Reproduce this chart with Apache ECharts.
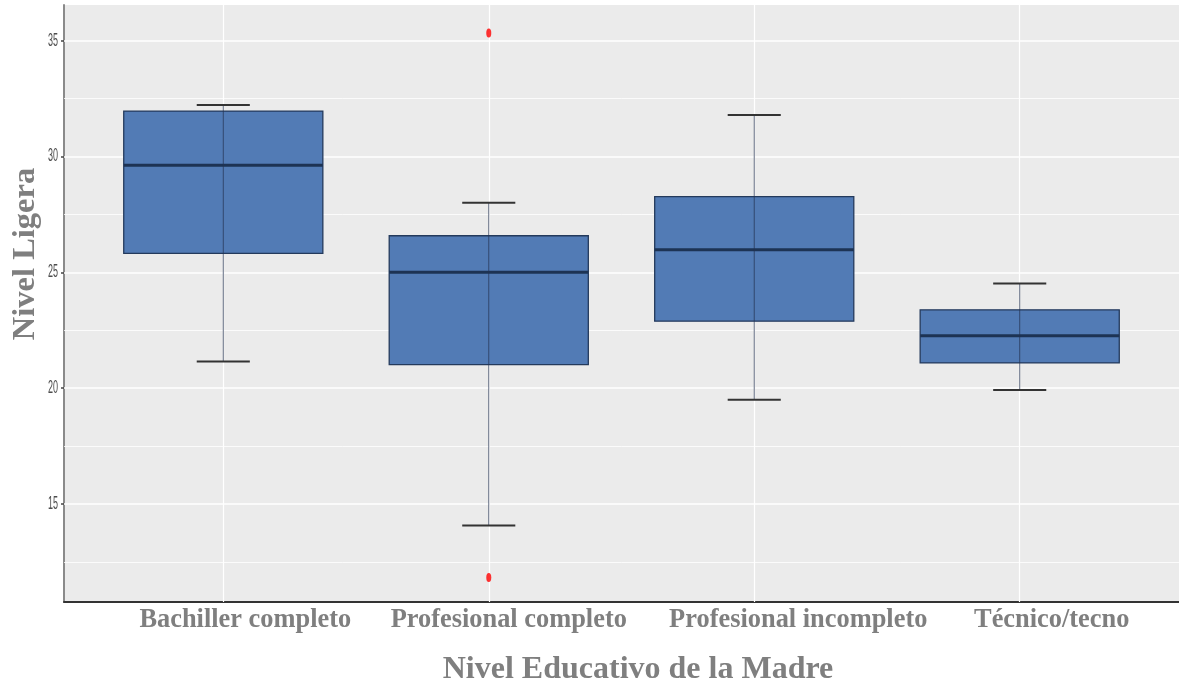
<!DOCTYPE html>
<html>
<head>
<meta charset="utf-8">
<script src="https://cdn.jsdelivr.net/npm/echarts@6/dist/echarts.min.js"></script>
<style>
html,body{margin:0;padding:0;background:#fff;}
#chart{width:1179px;height:687px;}
</style>
</head>
<body>
<div id="chart"></div>
<script>
// Nivel Ligera por nivel educativo de la madre (boxplot statistics)
const categories = ['Bachiller completo', 'Profesional completo', 'Profesional incompleto', 'Técnico/tecno'];
const whiskerLow  = [21.15, 14.07, 19.50, 19.92];
const quartile1   = [25.82, 21.02, 22.89, 21.09];
const medians     = [29.62, 25.00, 25.97, 22.26];
const quartile3   = [31.96, 26.58, 28.27, 23.38];
const whiskerHigh = [32.22, 28.00, 31.79, 24.52];
// outliers: [category index (1-based), value]
const outliers = [[2, 35.33], [2, 11.83]];
const yTicks = [15, 20, 25, 30, 35];
const yMinorGrid = [12.5, 17.5, 22.5, 27.5, 32.5];

const X_MIN = 0.4, X_MAX = 4.6;
const Y_MIN = 10.77, Y_MAX = 36.54;

// horizontal shift (px) of each category label
const labelShift = [22, 20, 44, 32];

const boxData = categories.map((c, i) => [i + 1, whiskerLow[i], quartile1[i], medians[i], quartile3[i], whiskerHigh[i]]);
const catLabelData = categories.map((c, i) => [i + 1, Y_MIN]);
const yLabelData = yTicks.map(v => [X_MIN, v]);

const SERIF = '"Liberation Serif", "Times New Roman", serif';
const SANS = '"Liberation Sans", Arial, sans-serif';

const chart = echarts.init(document.getElementById('chart'));

const option = {
  animation: false,
  grid: {
    left: 64, right: 0, top: 5, bottom: 85,
    show: true, backgroundColor: '#ebebeb', borderWidth: 0
  },
  xAxis: {
    type: 'value', min: X_MIN, max: X_MAX,
    axisLine: { show: true, onZero: false, lineStyle: { color: '#333', width: 2 } },
    axisTick: { show: false },
    splitLine: { show: false },
    axisLabel: { show: false }
  },
  yAxis: {
    type: 'value', min: Y_MIN, max: Y_MAX,
    axisLine: { show: true, lineStyle: { color: '#8a8a8a', width: 2 } },
    axisTick: { show: true, customValues: yTicks, length: 3, lineStyle: { color: '#444', width: 1.5 } },
    splitLine: { show: false },
    axisLabel: { show: false }
  },
  graphic: [
    {
      type: 'text', x: 26, y: 254, rotation: Math.PI / 2,
      style: {
        text: 'Nivel Ligera', fill: '#7f7f7f',
        font: 'bold 32.5px ' + SERIF,
        align: 'center', verticalAlign: 'middle'
      }
    },
    {
      type: 'text', x: 638, y: 670,
      style: {
        text: 'Nivel Educativo de la Madre', fill: '#7f7f7f',
        font: 'bold 32px ' + SERIF,
        align: 'center', verticalAlign: 'middle'
      }
    }
  ],
  series: [
    {
      // panel grid lines
      type: 'custom', z: 1, data: [],
      renderItem: () => null,
      markLine: {
        silent: true, symbol: 'none', z: 1, animation: false,
        label: { show: false },
        data: [
          ...yTicks.map(v => ({ yAxis: v, lineStyle: { color: '#fff', width: 1.6, type: 'solid' } })),
          ...yMinorGrid.map(v => ({ yAxis: v, lineStyle: { color: '#fff', width: 0.8, type: 'solid' } })),
          ...categories.map((c, i) => ({ xAxis: i + 1, lineStyle: { color: '#fff', width: 1.2, type: 'solid' } }))
        ]
      }
    },
    {
      // boxes, medians, whiskers
      type: 'custom', z: 5,
      data: boxData,
      renderItem: (params, api) => {
        const x = api.value(0);
        const low = api.coord([x, api.value(1)]);
        const q1 = api.coord([x, api.value(2)]);
        const med = api.coord([x, api.value(3)]);
        const q3 = api.coord([x, api.value(4)]);
        const high = api.coord([x, api.value(5)]);
        const hw = api.size([0.75, 0])[0] / 2;
        const cw = api.size([0.2, 0])[0] / 2;
        const cx = low[0];
        return {
          type: 'group',
          children: [
            { type: 'rect', shape: { x: cx - hw, y: q3[1], width: hw * 2, height: q1[1] - q3[1] },
              style: { fill: '#527bb5', stroke: '#243a5c', lineWidth: 1.3 } },
            { type: 'line', shape: { x1: cx - hw, y1: med[1], x2: cx + hw, y2: med[1] },
              style: { stroke: '#1d3354', lineWidth: 3 } },
            { type: 'line', shape: { x1: cx, y1: low[1], x2: cx, y2: high[1] },
              style: { stroke: 'rgba(35,50,80,0.7)', lineWidth: 1 } },
            { type: 'line', shape: { x1: cx - cw, y1: high[1], x2: cx + cw, y2: high[1] },
              style: { stroke: '#333', lineWidth: 2 } },
            { type: 'line', shape: { x1: cx - cw, y1: low[1], x2: cx + cw, y2: low[1] },
              style: { stroke: '#333', lineWidth: 2 } }
          ]
        };
      }
    },
    {
      type: 'scatter', z: 6,
      data: outliers,
      symbol: 'circle', symbolSize: [5, 9],
      itemStyle: { color: '#ff0000' }
    },
    {
      // category labels under the x axis
      type: 'custom', z: 6, clip: false, silent: true,
      data: catLabelData,
      renderItem: (params, api) => {
        const p = api.coord([api.value(0), api.value(1)]);
        const i = params.dataIndex;
        return {
          type: 'text', x: p[0] + labelShift[i], y: p[1] + 18,
          style: {
            text: categories[i], fill: '#7f7f7f',
            font: 'bold 26.4px ' + SERIF,
            align: 'center', verticalAlign: 'middle'
          }
        };
      }
    },
    {
      // y tick labels
      type: 'custom', z: 6, clip: false, silent: true,
      data: yLabelData,
      renderItem: (params, api) => {
        const p = api.coord([api.value(0), api.value(1)]);
        return {
          type: 'text', x: p[0] - 6, y: p[1], scaleX: 0.5,
          style: {
            text: String(api.value(1)), fill: '#4d4d4d',
            font: '18px ' + SANS,
            align: 'right', verticalAlign: 'middle'
          }
        };
      }
    }
  ]
};

chart.setOption(option);
</script>
</body>
</html>
